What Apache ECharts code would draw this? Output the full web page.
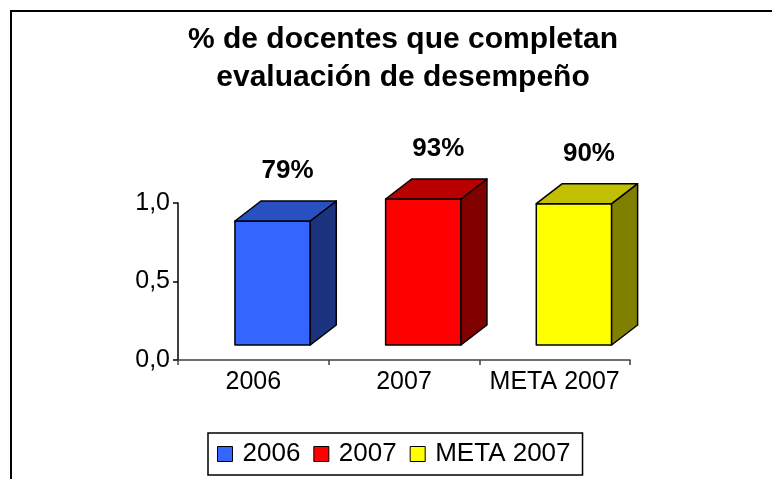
<!DOCTYPE html>
<html>
<head>
<meta charset="utf-8">
<script src="https://cdn.jsdelivr.net/npm/echarts@6/dist/echarts.min.js"></script>
<style>
  html, body { margin: 0; padding: 0; background: #fff; }
  #chart { width: 772px; height: 479px; }
</style>
</head>
<body>
<div id="chart"></div>
<script>
// datos
var categorias = ['2006', '2007', 'META 2007'];
var valores = [0.79, 0.93, 0.90];
var etiquetas = ['79%', '93%', '90%'];
var yTicks = [0, 0.5, 1.0];

// colores: frente, techo, lado
var colores = [
    ['#3366ff', '#2850c0', '#1c347f'],
    ['#ff0000', '#b80000', '#800000'],
    ['#ffff00', '#c0c000', '#808000']
];

var chart = echarts.init(document.getElementById('chart'));

var DX = 26, DY = -20, FLOOR = 15;

function barra3d(params, api) {
    var i = api.value(0), v = api.value(1);
    var base = api.coord([i, 0]);
    var tope = api.coord([i, v]);
    var w = api.size([1, 0])[0];
    var x0 = base[0] - w * 0.122;
    var x1 = x0 + w * 0.5;
    var yb = base[1] - FLOOR;
    var yt = tope[1] - FLOOR;
    var c = colores[i];
    var borde = { stroke: '#000', lineWidth: 1.5, lineJoin: 'round' };
    return {
        type: 'group',
        children: [
            {
                type: 'polygon',
                shape: { points: [[x0, yb], [x1, yb], [x1, yt], [x0, yt]] },
                style: Object.assign({ fill: c[0] }, borde)
            },
            {
                type: 'polygon',
                shape: { points: [[x1, yb], [x1 + DX, yb + DY], [x1 + DX, yt + DY], [x1, yt]] },
                style: Object.assign({ fill: c[2] }, borde)
            },
            {
                type: 'polygon',
                shape: { points: [[x0, yt], [x1, yt], [x1 + DX, yt + DY], [x0 + DX, yt + DY]] },
                style: Object.assign({ fill: c[1] }, borde)
            },
            {
                type: 'text',
                style: {
                    text: etiquetas[i],
                    x: (x0 + x1) / 2 + 15,
                    y: yt + DY - 30,
                    align: 'center',
                    verticalAlign: 'middle',
                    fill: '#000',
                    font: 'bold 26px "Liberation Sans", Arial, sans-serif'
                }
            }
        ]
    };
}

var series = categorias.map(function (nombre, i) {
    return {
        name: nombre,
        type: 'custom',
        renderItem: barra3d,
        itemStyle: { color: colores[i][0], borderColor: '#000', borderWidth: 1 },
        encode: { x: 0, y: 1 },
        data: [[i, valores[i]]],
        clip: false,
        silent: true
    };
});

chart.setOption({
    animation: false,
    textStyle: { fontFamily: '"Liberation Sans", Arial, sans-serif' },
    title: {
        text: '% de docentes que completan\nevaluación de desempeño',
        left: 398,
        textAlign: 'center',
        top: 16,
        textStyle: {
            fontSize: 30,
            fontWeight: 'bold',
            color: '#000',
            lineHeight: 38
        }
    },
    graphic: [{
        type: 'rect',
        shape: { x: 11, y: 11, width: 800, height: 500 },
        style: { fill: 'none', stroke: '#000', lineWidth: 2 },
        silent: true
    }],
    legend: {
        data: categorias,
        left: 208,
        top: 433,
        padding: [8, 12, 8, 9],
        itemWidth: 15,
        itemHeight: 15,
        itemGap: 13,
        borderColor: '#000',
        borderWidth: 1.5,
        icon: 'rect',
        itemStyle: { borderColor: '#000', borderWidth: 1 },
        textStyle: { fontSize: 26, color: '#000', padding: [0, 0, 0, 5] },
        selectedMode: false
    },
    grid: { left: 178, right: 142, top: 203, bottom: 119 },
    xAxis: {
        type: 'category',
        data: categorias,
        boundaryGap: true,
        axisLine: { lineStyle: { color: '#404040', width: 1.5 } },
        axisTick: { show: true, length: 5, interval: 0, lineStyle: { color: '#404040', width: 1.5 } },
        axisLabel: { fontSize: 25, color: '#000', margin: 10, interval: 0 }
    },
    yAxis: {
        type: 'value',
        min: yTicks[0],
        max: yTicks[yTicks.length - 1],
        interval: 0.5,
        splitLine: { show: false },
        axisLine: { show: true, lineStyle: { color: '#000', width: 1.5 } },
        axisTick: { show: true, length: 5, lineStyle: { color: '#000', width: 1.5 } },
        axisLabel: {
            fontSize: 25,
            color: '#000',
            margin: 8,
            formatter: function (v) { return v.toFixed(1).replace('.', ','); }
        }
    },
    series: series
});
</script>
</body>
</html>
